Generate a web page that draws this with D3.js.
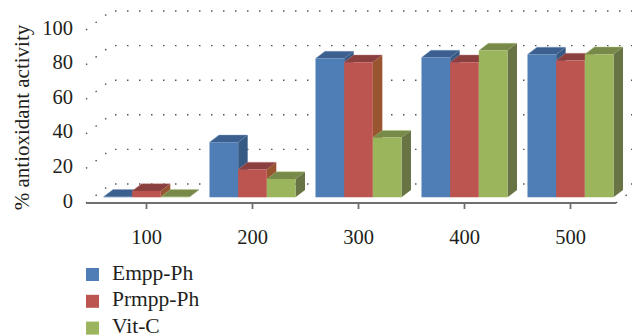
<!DOCTYPE html>
<html>
<head>
<meta charset="utf-8">
<script src="https://cdn.jsdelivr.net/npm/d3@7"></script>
<style>
  html, body { margin: 0; padding: 0; background: #fff; }
  svg { display: block; }
</style>
</head>
<body>
<svg id="chart" width="632" height="336"></svg>
<script>
// Concentrations (µg/mL) and % antioxidant activity for each sample
const categories = ["100", "200", "300", "400", "500"];
const seriesNames = ["Empp-Ph", "Prmpp-Ph", "Vit-C"];
const emppPh  = [0.3, 31.8, 80.2, 80.8, 82.6];
const prmppPh = [3.7, 16.1, 78.1, 78.1, 79.1];
const vitC    = [0.3, 10.6, 34.5, 84.9, 82.7];
const yTicks  = [0, 20, 40, 60, 80, 100];

const seriesValues = [emppPh, prmppPh, vitC];

const FONT = "Liberation Serif";
const INK = "#231f20";

// Face colours: front, top, side
const palette = [
  { front: "#4f7db5", top: "#3b5f8e", side: "#375a85", edge: "#7f9fcc" },
  { front: "#bc5450", top: "#8b3f3f", side: "#995530", edge: "#c98a88" },
  { front: "#9bb55c", top: "#788a49", side: "#687443", edge: "#b5c98a" }
];

const svg = d3.select("#chart");

// Floor front edge and oblique depth vector for the 3-D box
const floorX0 = 86, floorX1 = 616;
const depth = { dx: 25, dy: -19 };
const barZ0 = 0.3, barZ1 = 0.68;

const y = d3.scaleLinear().domain([0, 100]).range([203, 30]);

const x = d3.scaleBand()
  .domain(categories)
  .range([floorX0, floorX1])
  .paddingInner(20 / 106)
  .paddingOuter(10 / 106);

const xs = d3.scaleBand()
  .domain(d3.range(seriesNames.length))
  .range([0, x.bandwidth()]);

// project floor-x, value and depth fraction to screen
const P = (px, v, z) => [px + depth.dx * z, y(v) + depth.dy * z];

// Back-wall and side-wall dotted gridlines
const grid = svg.append("g")
  .attr("fill", "none")
  .attr("stroke", "#555")
  .attr("stroke-width", 1.4)
  .attr("stroke-dasharray", "1.5,10.5");

yTicks.forEach(t => {
  const [bx0, by] = P(floorX0, t, 1);
  const [bx1] = P(floorX1, t, 1);
  grid.append("line")
    .attr("x1", bx0 + 4).attr("y1", by)
    .attr("x2", bx1).attr("y2", by);
  const [fx, fy] = P(floorX0, t, 0);
  grid.append("line")
    .attr("x1", fx).attr("y1", fy)
    .attr("x2", bx0).attr("y2", by);
});
{
  const [fx, fy] = P(floorX1, 0, 0);
  const [bx, by] = P(floorX1, 0, 1);
  grid.append("line").attr("x1", fx).attr("y1", fy).attr("x2", bx).attr("y2", by);
}

// Bars: side, top and front faces, painted left to right
const bars = svg.append("g");
const poly = pts => "M" + pts.map(p => p.join(",")).join("L") + "Z";

categories.forEach((c, ci) => {
  seriesValues.forEach((vals, si) => {
    const v = vals[ci];
    const col = palette[si];
    const xl = x(c) + xs(si);
    const xr = xl + xs.bandwidth();
    const fl0 = P(xl, 0, barZ0), fr0 = P(xr, 0, barZ0);
    const flv = P(xl, v, barZ0), frv = P(xr, v, barZ0);
    const blv = P(xl, v, barZ1), brv = P(xr, v, barZ1);
    const br0 = P(xr, 0, barZ1);
    bars.append("path").attr("d", poly([fr0, frv, brv, br0])).attr("fill", col.side);
    bars.append("path").attr("d", poly([flv, frv, brv, blv])).attr("fill", col.top);
    bars.append("path").attr("d", poly([fl0, flv, frv, fr0])).attr("fill", col.front);
    // soft highlight along the top face edges
    bars.append("path")
      .attr("d", "M" + [flv, blv, brv].map(p => p.join(",")).join("L"))
      .attr("fill", "none").attr("stroke", col.edge)
      .attr("stroke-width", 0.7).attr("stroke-opacity", 0.6);
  });
});

// Category axis along the floor front edge
svg.append("line")
  .attr("x1", floorX0).attr("y1", y(0))
  .attr("x2", floorX1).attr("y2", y(0))
  .attr("stroke", "#6f6f6f").attr("stroke-width", 1.8);

const xAxisScale = d3.scaleBand().domain(categories)
  .range([floorX0 + depth.dx * barZ0, floorX1 + depth.dx * barZ0])
  .paddingInner(20 / 106).paddingOuter(10 / 106);

const xAxis = svg.append("g")
  .attr("transform", `translate(0,${y(0)})`)
  .call(d3.axisBottom(xAxisScale).tickSize(6).tickPadding(20));
xAxis.attr("font-family", FONT).attr("font-size", 20);
xAxis.select(".domain").remove();
xAxis.selectAll(".tick line").attr("stroke", "#6f6f6f").attr("stroke-width", 1.8);
xAxis.selectAll(".tick text")
  .attr("font-family", FONT)
  .attr("font-size", 20.5)
  .attr("fill", INK);

// Value axis labels
const yAxis = svg.append("g")
  .attr("transform", "translate(85,0)")
  .call(d3.axisLeft(y).tickValues(yTicks).tickSize(0).tickPadding(12));
yAxis.attr("font-family", FONT).attr("font-size", 20);
yAxis.select(".domain").remove();
yAxis.selectAll(".tick text")
  .attr("font-family", FONT)
  .attr("font-size", 20.5)
  .attr("dy", "0.2em")
  .attr("fill", INK);

svg.append("text")
  .attr("transform", "translate(29,117.5) rotate(-90)")
  .attr("text-anchor", "middle")
  .attr("font-family", FONT)
  .attr("font-size", 21)
  .attr("fill", INK)
  .text("% antioxidant activity");

// Legend
const legend = svg.append("g").attr("transform", "translate(86,268)");
seriesNames.forEach((name, i) => {
  const g = legend.append("g").attr("transform", `translate(0,${i * 26.8})`);
  g.append("rect").attr("width", 13).attr("height", 13).attr("fill", palette[i].front);
  g.append("text").attr("x", 26).attr("y", 11.5)
    .attr("font-family", FONT).attr("font-size", 21.5).attr("fill", INK)
    .text(name);
});
</script>
</body>
</html>
